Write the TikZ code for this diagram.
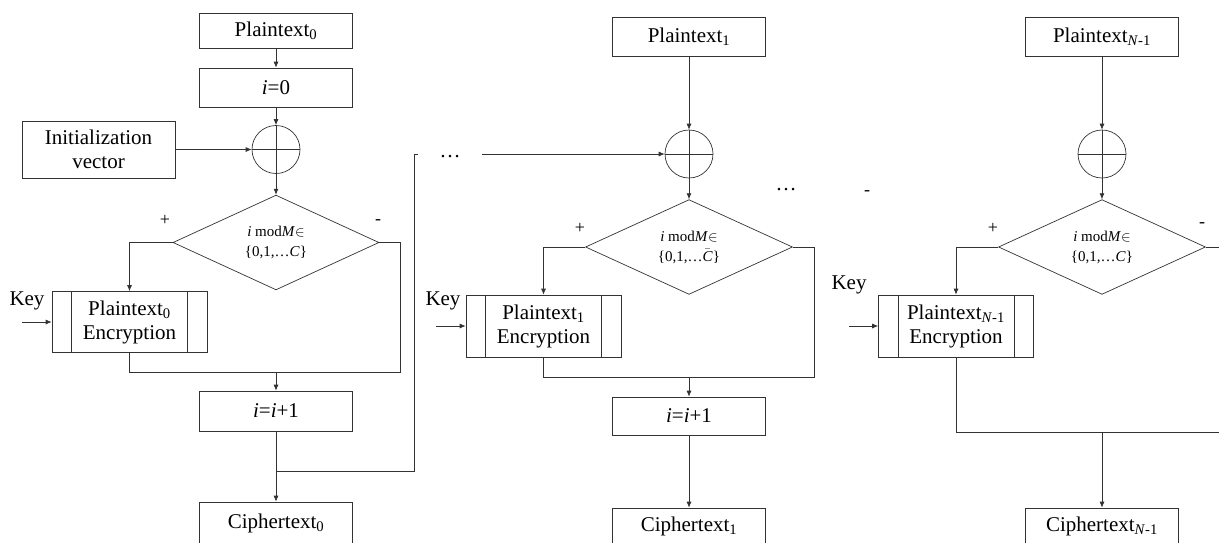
\documentclass[tikz,border=0pt]{standalone}
\usepackage{fontspec}
\setmainfont{Liberation Serif}
\usetikzlibrary{calc,arrows.meta,shapes.geometric}

\begin{document}
\begin{tikzpicture}[x=1pt,y=-1pt,line width=0.7pt,color=black!80,
	every node/.style={text=black},
	txt/.style={font=\fontsize{21}{24}\selectfont},
	sgn/.style={font=\fontsize{18}{18}\selectfont},
	blk/.style={txt,draw,inner sep=0pt,minimum width=153pt,minimum height=39pt,align=center},
	encbox/.style={blk,minimum width=155pt,minimum height=61pt},
	xorc/.style={draw,circle,inner sep=0pt,minimum size=48pt},
	cond/.style={draw,diamond,inner sep=0pt,minimum width=206pt,minimum height=82pt,
		align=center,font=\fontsize{15}{20}\selectfont},
	arr/.style={-{Latex[length=6pt,width=5pt]}}]
	\useasboundingbox
		(0,0) rectangle (1219,542);
	\node[blk,minimum height=35pt] (p0) at (276,30.5) {Plaintext\textsubscript{0}};
	\node[blk] (i0) at (276,87.5) {\textit{i}=0};
	\node[xorc] (x0) at (276,149.5) {};
	\node[blk,minimum height=57pt] (iv) at (98.5,149.5) {Initialization\\vector};
	\node[cond] (d0) at (276,242.5) {\textit{i} mod\textit{M}$\in$\\\{0,1,…\textit{C}\}};
	\node[encbox] (e0) at (129.5,322) {Plaintext\textsubscript{0}\\Encryption};
	\node[blk,minimum height=40pt] (inc0) at (276,411) {\textit{i}=\textit{i}+1};
	\node[blk,minimum height=42pt] (c0) at (276,523) {Ciphertext\textsubscript{0}};
	\node[txt] (key0) at (27,301) {Key};
	\node[sgn] (pl0) at (165,220) {+};
	\node[sgn] (mi0) at (378,222) {-};
	\coordinate (ka0) at (22,322);
	\coordinate (r0) at (400,372);
	\coordinate (j0) at (276,372);
	\coordinate (t0) at (276,471);
	\coordinate (b0) at (414,154);
	\coordinate (b0e) at (418,154);

	\node[blk] (p1) at (689,36.5) {Plaintext\textsubscript{1}};
	\node[xorc] (x1) at (689,154) {};
	\node[cond,minimum width=207pt,minimum height=84pt] (d1) at (689,247) {\textit{i} mod\textit{M}$\in$\\\{0,1,…$\bar{\mbox{\textit{C}}}$\}};
	\node[encbox,minimum height=62pt] (e1) at (543.5,326) {Plaintext\textsubscript{1}\\Encryption};
	\node[blk,minimum height=38pt] (inc1) at (689,416) {\textit{i}=\textit{i}+1};
	\node[blk,minimum height=36pt] (c1) at (689,526) {Ciphertext\textsubscript{1}};
	\node[txt] (key1) at (443,301) {Key};
	\node[sgn] (pl1) at (580,228) {+};
	\node[txt] (dt0) at (450,157) {…};
	\node[txt] (dt1) at (786,190) {…};
	\node[sgn] (mi1) at (867,193) {-};
	\coordinate (ka1) at (436,326);
	\coordinate (a1) at (482,154);
	\coordinate (r1) at (814,377);
	\coordinate (j1) at (689,377);

	\node[blk] (p2) at (1102,36.5) {Plaintext\textsubscript{\textit{N}-1}};
	\node[xorc] (x2) at (1102,154) {};
	\node[cond,minimum width=207pt,minimum height=84pt] (d2) at (1102,247) {\textit{i} mod\textit{M}$\in$\\\{0,1,…\textit{C}\}};
	\node[encbox,minimum height=62pt] (e2) at (956,326) {Plaintext\textsubscript{\textit{N}-1}\\Encryption};
	\node[blk,minimum height=36pt] (c2) at (1102,526) {Ciphertext\textsubscript{\textit{N}-1}};
	\node[txt] (key2) at (849,285) {Key};
	\node[sgn] (pl2) at (993,228) {+};
	\node[sgn] (mi2) at (1202,225) {-};
	\coordinate (ka2) at (849,326);
	\coordinate (o2) at (1230,247);
	\coordinate (o3) at (1230,432);
	\coordinate (j2) at (1102,432);

	\foreach \n in {x0,x1,x2}
		\draw (\n.north) -- (\n.south) (\n.west) -- (\n.east);
	\foreach \n in {e0,e1,e2}
		\draw ([xshift=20pt]\n.north west) -- ([xshift=20pt]\n.south west)
		([xshift=-20pt]\n.north east) -- ([xshift=-20pt]\n.south east);

	\draw[arr]
	(p0) -- (i0);
	\draw[arr]
	(i0) -- (x0);
	\draw[arr]
	(iv) -- (x0);
	\draw[arr]
	(x0) -- (d0);
	\draw[arr]
	(d0.west) -| (e0.north);
	\draw[arr]
	(ka0) -- (e0.west);
	\draw
	(e0.south) |- (r0) |- (d0.east);
	\draw[arr]
	(j0) -- (inc0);
	\draw[arr]
	(inc0) -- (c0);
	\draw
	(t0) -| (b0) -- (b0e);

	\draw[arr]
	(a1) -- (x1);
	\draw[arr]
	(p1) -- (x1);
	\draw[arr]
	(x1) -- (d1);
	\draw[arr]
	(d1.west) -| (e1.north);
	\draw[arr]
	(ka1) -- (e1.west);
	\draw
	(e1.south) |- (r1) |- (d1.east);
	\draw[arr]
	(j1) -- (inc1);
	\draw[arr]
	(inc1) -- (c1);

	\draw[arr]
	(p2) -- (x2);
	\draw[arr]
	(x2) -- (d2);
	\draw[arr]
	(d2.west) -| (e2.north);
	\draw[arr]
	(ka2) -- (e2.west);
	\draw
	(d2.east) -- (o2);
	\draw
	(e2.south) |- (o3);
	\draw[arr]
	(j2) -- (c2);
\end{tikzpicture}
\end{document}
